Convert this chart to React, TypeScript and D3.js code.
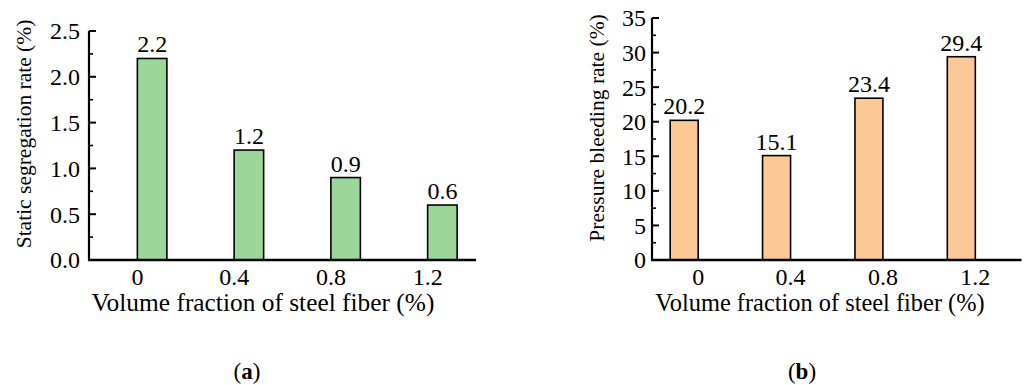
import React from "react";
import * as d3 from "d3";

const fractions = [0, 0.4, 0.8, 1.2];
const segregation = [2.2, 1.2, 0.9, 0.6];
const bleeding = [20.2, 15.1, 23.4, 29.4];
const segTicks = [0, 0.5, 1.0, 1.5, 2.0, 2.5];
const bleedTicks = [0, 5, 10, 15, 20, 25, 30, 35];

const FONT = "'Liberation Serif', 'Times New Roman', serif";

type PanelProps = {
  values: number[];
  ticks: number[];
  minorStep: number;
  yMax: number;
  fmt: (v: number) => string;
  xRange: [number, number];
  yRange: [number, number];
  barOffset: number;
  barWidth: number;
  fill: string;
  yTitle: string;
  yTitleX: number;
  yTitleY: number;
  xTitleX: number;
  xTitleSize: number;
  tickLabelGap: number;
  panelLabel: string;
  panelLabelX: number;
};

function Panel(p: PanelProps) {
  const x = d3.scaleLinear().domain([-0.2, 1.4]).range(p.xRange);
  const y = d3.scaleLinear().domain([0, p.yMax]).range(p.yRange);
  const x0 = p.xRange[0];
  const minor = d3.range(p.minorStep, p.yMax, p.minorStep * 2);
  return (
    <g>
      {fractions.map((f, i) => (
        <g key={i}>
          <rect
            x={x(f) + p.barOffset}
            y={y(p.values[i])}
            width={p.barWidth}
            height={y(0) - y(p.values[i])}
            fill={p.fill}
            stroke="#000"
            strokeWidth={1.6}
          />
          <text
            x={x(f) + p.barOffset + p.barWidth / 2}
            y={y(p.values[i]) - 6}
            textAnchor="middle"
            fontFamily={FONT}
            fontSize={24}
          >
            {p.fmt(p.values[i])}
          </text>
          <text
            x={x(f)}
            y={285}
            textAnchor="middle"
            fontFamily={FONT}
            fontSize={24}
          >
            {d3.format("")(f)}
          </text>
        </g>
      ))}
      <line x1={x0} x2={x0} y1={y(p.yMax)} y2={y(0)} stroke="#000" strokeWidth={2.2} />
      <line x1={x0 - 1} x2={p.xRange[1]} y1={y(0)} y2={y(0)} stroke="#000" strokeWidth={2.4} />
      {p.ticks.map((t, i) => (
        <g key={"t" + i}>
          <line x1={x0} x2={x0 + 7} y1={y(t)} y2={y(t)} stroke="#000" strokeWidth={2} />
          <text
            x={x0 - p.tickLabelGap}
            y={y(t)}
            dy="0.35em"
            textAnchor="end"
            fontFamily={FONT}
            fontSize={24}
          >
            {p.fmt(t)}
          </text>
        </g>
      ))}
      {minor.map((t, i) => (
        <line key={"m" + i} x1={x0} x2={x0 + 4} y1={y(t)} y2={y(t)} stroke="#000" strokeWidth={1.6} />
      ))}
      <text
        transform={`translate(${p.yTitleX},${p.yTitleY}) rotate(-90)`}
        textAnchor="middle"
        fontFamily={FONT}
        fontSize={21.5}
      >
        {p.yTitle}
      </text>
      <text x={p.xTitleX} y={311} textAnchor="middle" fontFamily={FONT} fontSize={p.xTitleSize}>
        Volume fraction of steel fiber (%)
      </text>
      <text x={p.panelLabelX} y={379} textAnchor="middle" fontFamily={FONT} fontSize={23}>
        (<tspan fontWeight="bold">{p.panelLabel}</tspan>)
      </text>
    </g>
  );
}

export default function App() {
  return (
    <svg width={1024} height={385} style={{ display: "block", position: "absolute", left: 0, top: 0, background: "#fff" }}>
      <rect width={1024} height={385} fill="#fff" />
      <Panel
        values={segregation}
        ticks={segTicks}
        minorStep={0.25}
        yMax={2.5}
        fmt={d3.format(".1f")}
        xRange={[89, 476]}
        yRange={[260, 31]}
        barOffset={0}
        barWidth={29.5}
        fill="#9dd69b"
        yTitle="Static segregation rate (%)"
        yTitleX={31}
        yTitleY={134}
        xTitleX={263}
        xTitleSize={25.4}
        tickLabelGap={9}
        panelLabel="a"
        panelLabelX={247}
      />
      <Panel
        values={bleeding}
        ticks={bleedTicks}
        minorStep={2.5}
        yMax={35}
        fmt={d3.format("")}
        xRange={[652, 1021.5]}
        yRange={[260, 18]}
        barOffset={-28}
        barWidth={28}
        fill="#fbc896"
        yTitle="Pressure bleeding rate (%)"
        yTitleX={604}
        yTitleY={128}
        xTitleX={820}
        xTitleSize={24.4}
        tickLabelGap={6}
        panelLabel="b"
        panelLabelX={802}
      />
    </svg>
  );
}
